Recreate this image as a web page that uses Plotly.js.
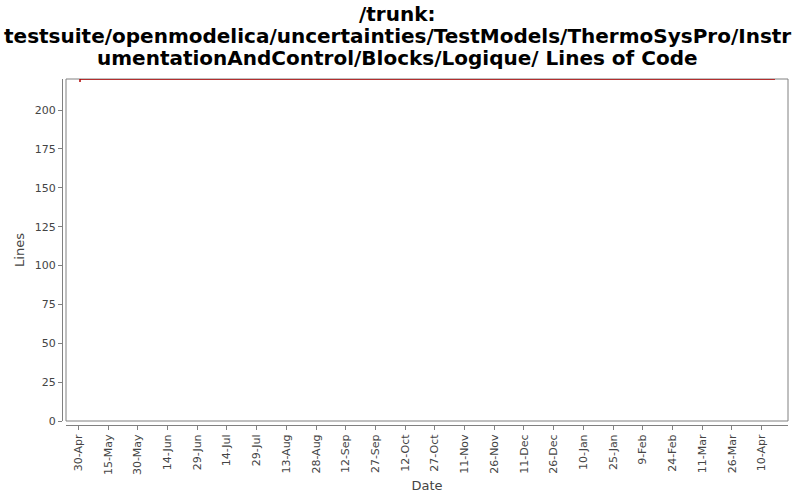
<!DOCTYPE html>
<html>
<head>
<meta charset="utf-8">
<script src="https://cdn.plot.ly/plotly-3.0.1.min.js"></script>
<style>html,body{margin:0;padding:0;background:#fff;}#chart{width:800px;height:500px;}</style>
</head>
<body>
<div id="chart"></div>
<script>
const dates = ["2009-04-30 20:40", "2009-04-30 21:00", "2010-04-16 17:00"];
const lines = [218, 220, 220];
const titleLines = ["/trunk:", "testsuite/openmodelica/uncertainties/TestModels/ThermoSysPro/Instr", "umentationAndControl/Blocks/Logique/ Lines of Code"];
const xTitle = "Date";
const yTitle = "Lines";

const trace = {
  x: dates, y: lines, type: "scatter", mode: "lines",
  line: {color: "#b00000", width: 1.5}, hoverinfo: "skip", showlegend: false
};

// title lines as annotations to control spacing
const plotLeft = 62, plotW = 726, plotBottom = 425, plotH = 346;
const titleCenters = [14, 36, 58];
const annotations = titleLines.map((t, i) => ({
  text: t, showarrow: false,
  xref: "paper", yref: "paper",
  x: (397 - plotLeft) / plotW, xanchor: "center",
  y: (plotBottom - titleCenters[i]) / plotH, yanchor: "middle",
  font: {family: "DejaVu Sans", size: 20, color: "#000", weight: "bold"}
}));

const layout = {
  width: 800, height: 500,
  paper_bgcolor: "#fff", plot_bgcolor: "#fff",
  margin: {l: 62, r: 12, t: 79, b: 75},
  annotations: annotations,
  xaxis: {
    type: "date",
    domain: [4/726, 1],
    anchor: "free", position: 0,
    range: ["2009-04-23 19:00", "2010-04-23 06:45"],
    tick0: "2009-04-30", dtick: 15*86400000,
    tickformat: "%-d-%b", tickangle: -90,
    ticks: "outside", ticklen: 4, tickcolor: "#808080",
    showline: true, linecolor: "#808080", linewidth: 1,
    showgrid: false, zeroline: false,
    tickfont: {family: "DejaVu Sans", size: 11, color: "#444"},
    title: {text: xTitle, font: {family: "DejaVu Sans", size: 13, color: "#444"}, standoff: 6}
  },
  yaxis: {
    domain: [4/346, 1],
    anchor: "free", position: 0,
    range: [0, 220],
    tick0: 0, dtick: 25,
    ticks: "outside", ticklen: 4, tickcolor: "#808080",
    showline: true, linecolor: "#808080", linewidth: 1,
    showgrid: false, zeroline: false,
    tickfont: {family: "DejaVu Sans", size: 11, color: "#444"},
    title: {text: yTitle, font: {family: "DejaVu Sans", size: 13, color: "#444"}, standoff: 6}
  },
  shapes: [{
    type: "rect", xref: "x domain", yref: "y domain",
    x0: 0, x1: 1, y0: 0, y1: 1,
    line: {color: "#808080", width: 1}, fillcolor: "rgba(0,0,0,0)", layer: "below"
  }]
};

Plotly.newPlot("chart", [trace], layout, {displayModeBar: false, staticPlot: true});
</script>
</body>
</html>
